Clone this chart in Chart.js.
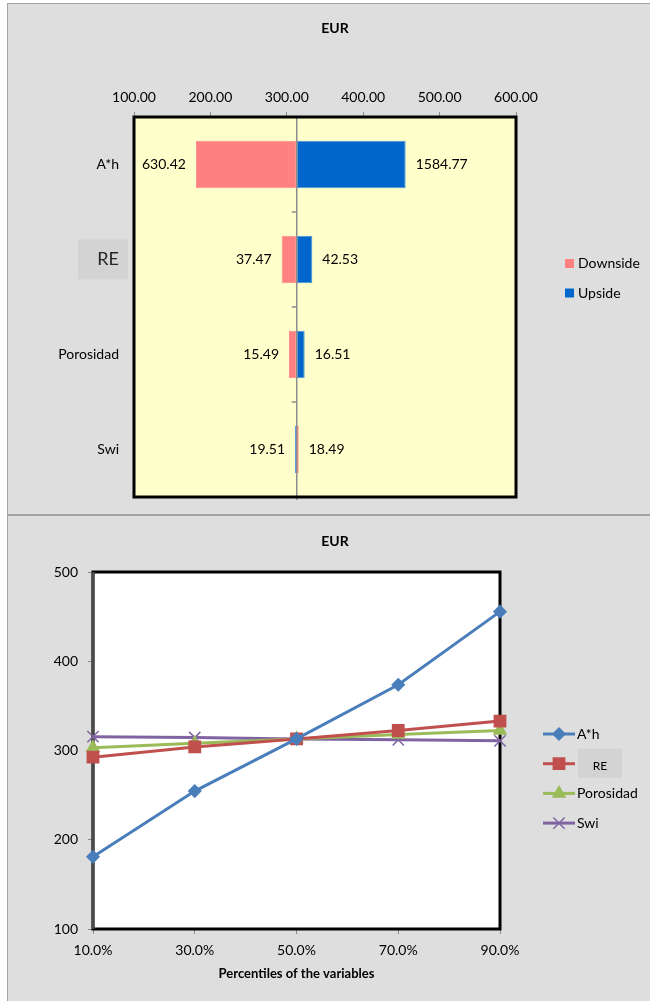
<!DOCTYPE html>
<html>
<head>
<meta charset="utf-8">
<title>EUR</title>
<script src="https://cdn.jsdelivr.net/npm/chart.js@4.4.1/dist/chart.umd.min.js"></script>
<style>
    html, body { margin: 0; padding: 0; background: #fff; }
    .frame { position: absolute; left: 7px; width: 650px; background: #dedede; border: 1px solid #a3a3a3; box-sizing: border-box; }
    #topFrame { top: 3px; height: 512px; }
    #bottomFrame { top: 515px; height: 490px; }
    canvas { position: absolute; left: 0; }
    #tornadoChart { top: 0; }
    #linesChart { top: 515px; }
</style>
</head>
<body>
<div class="frame" id="topFrame"></div>
<div class="frame" id="bottomFrame"></div>
<canvas id="tornadoChart" width="650" height="514"></canvas>
<canvas id="linesChart" width="650" height="486"></canvas>

<script>
// Tornado chart data
const variables = ['A*h', 'RE', 'Porosidad', 'Swi'];
const baseEUR = 313;
const downsideValues = [181, 293.3, 302.9, 315.6];
const upsideValues = [455.6, 333.4, 323.4, 310.8];
const downsideLabels = ['630.42', '37.47', '15.49', '19.51'];
const upsideLabels = ['1584.77', '42.53', '16.51', '18.49'];
const tornadoTicks = [100, 200, 300, 400, 500, 600];

// Line chart data
const percentiles = ['10.0%', '30.0%', '50.0%', '70.0%', '90.0%'];
const areaHeightEUR = [181, 254.5, 313, 373.6, 455.6];
const recoveryEUR = [292.5, 304, 313, 322.4, 333];
const porosityEUR = [303, 308, 313, 318, 322.5];
const swiEUR = [315.5, 314.5, 313, 312, 310.8];
const eurTicks = [100, 200, 300, 400, 500];

Chart.defaults.font.family = 'Lato, "Open Sans", sans-serif';
Chart.defaults.font.size = 14;
Chart.defaults.color = '#000';

document.addEventListener('DOMContentLoaded', () => {

    // Decorations for the tornado chart: fill, frame, centre line, value labels, legend
    const tornadoDecor = {
        id: 'tornadoDecor',
        beforeDraw(chart) {
            const { ctx, chartArea: a, scales: { y } } = chart;
            ctx.save();
            ctx.fillStyle = '#ffffcc';
            ctx.fillRect(a.left, a.top, a.right - a.left, a.bottom - a.top);
            // grey patch behind the RE label
            const yRE = y.getPixelForValue(1);
            ctx.fillStyle = '#d3d3d3';
            ctx.fillRect(78, yRE - 20, 50, 40);
            ctx.fillStyle = '#000';
            ctx.font = 'bold 14px Lato';
            ctx.textAlign = 'center';
            ctx.textBaseline = 'middle';
            ctx.fillText('EUR', 335, 28);
            ctx.restore();
        },
        afterDatasetsDraw(chart) {
            const { ctx, chartArea: a, scales: { x, y } } = chart;
            ctx.save();
            // vertical line at the base case
            const xb = x.getPixelForValue(baseEUR);
            ctx.strokeStyle = '#8c8c8c';
            ctx.lineWidth = 1.5;
            ctx.beginPath();
            ctx.moveTo(xb, a.top);
            ctx.lineTo(xb, a.bottom + 3);
            for (let i = 0; i < variables.length - 1; i++) {
                const yy = (y.getPixelForValue(i) + y.getPixelForValue(i + 1)) / 2;
                ctx.moveTo(xb - 5, yy);
                ctx.lineTo(xb, yy);
            }
            ctx.stroke();

            // value labels
            ctx.fillStyle = '#000';
            ctx.font = '14px Lato';
            ctx.textBaseline = 'middle';
            variables.forEach((v, i) => {
                const lo = Math.min(baseEUR, downsideValues[i], upsideValues[i]);
                const hi = Math.max(baseEUR, downsideValues[i], upsideValues[i]);
                const yy = y.getPixelForValue(i);
                ctx.textAlign = 'right';
                ctx.fillText(downsideLabels[i], x.getPixelForValue(lo) - 10, yy);
                ctx.textAlign = 'left';
                ctx.fillText(upsideLabels[i], x.getPixelForValue(hi) + 10, yy);
            });

            // plot frame
            ctx.strokeStyle = '#000';
            ctx.lineWidth = 3;
            ctx.strokeRect(a.left, a.top, a.right - a.left, a.bottom - a.top);
            ctx.restore();
        },
        afterDraw(chart) {
            const { ctx } = chart;
            ctx.save();
            ctx.font = '14px Lato';
            ctx.textAlign = 'left';
            ctx.textBaseline = 'middle';
            chart.data.datasets.forEach((ds, i) => {
                const yy = 263.5 + i * 29.5;
                ctx.fillStyle = ds.backgroundColor;
                ctx.fillRect(565, yy - 4.5, 9, 9);
                ctx.fillStyle = '#000';
                ctx.fillText(ds.label, 578, yy);
            });
            ctx.restore();
        }
    };

    const tornadoCtx = document.getElementById('tornadoChart').getContext('2d');
    new Chart(tornadoCtx, {
        type: 'bar',
        data: {
            labels: variables,
            datasets: [{
                label: 'Downside',
                data: variables.map((v, i) => [baseEUR, downsideValues[i]]),
                backgroundColor: '#ff8080',
                borderColor: '#ff8a8a',
                borderWidth: 1,
                borderSkipped: false,
                grouped: false,
                barPercentage: 0.5,
                categoryPercentage: 1
            }, {
                label: 'Upside',
                data: variables.map((v, i) => [baseEUR, upsideValues[i]]),
                backgroundColor: '#0066cc',
                borderColor: '#4a94e0',
                borderWidth: 1,
                borderSkipped: false,
                grouped: false,
                barPercentage: 0.5,
                categoryPercentage: 1
            }]
        },
        options: {
            indexAxis: 'y',
            responsive: false,
            animation: false,
            layout: { padding: { top: 0, left: 0, right: 134, bottom: 17 } },
            plugins: { legend: { display: false }, tooltip: { enabled: false } },
            scales: {
                x: {
                    position: 'top',
                    min: tornadoTicks[0],
                    max: tornadoTicks[tornadoTicks.length - 1],
                    afterBuildTicks: s => { s.ticks = tornadoTicks.map(v => ({ value: v })); },
                    ticks: { callback: v => Number(v).toFixed(2), padding: 6, maxRotation: 0 },
                    grid: { drawOnChartArea: false, tickLength: 5, color: '#8c8c8c' },
                    border: { display: false },
                    afterFit: s => { s.height = 117; }
                },
                y: {
                    grid: { display: false, drawTicks: false },
                    border: { display: false },
                    ticks: {
                        padding: 15,
                        font: c => ({ size: c.index === 1 ? 18 : 14 }),
                        color: c => (c.index === 1 ? '#262626' : '#000')
                    },
                    afterFit: s => {
                        s.width = 134;
                        s.paddingTop = 0;
                        s.paddingBottom = 0;
                    }
                }
            }
        },
        plugins: [tornadoDecor]
    });

    // Decorations for the line chart: title, frame and legend
    const linesDecor = {
        id: 'linesDecor',
        beforeDraw(chart) {
            const { ctx, chartArea: a } = chart;
            ctx.save();
            ctx.fillStyle = '#fff';
            ctx.fillRect(a.left, a.top, a.right - a.left, a.bottom - a.top);
            ctx.fillStyle = '#000';
            ctx.font = 'bold 14px Lato';
            ctx.textAlign = 'center';
            ctx.textBaseline = 'middle';
            ctx.fillText('EUR', 335, 26);
            ctx.restore();
        },
        beforeDatasetsDraw(chart) {
            const { ctx, chartArea: a } = chart;
            ctx.save();
            ctx.strokeStyle = '#000';
            ctx.lineWidth = 3;
            ctx.strokeRect(a.left, a.top, a.right - a.left, a.bottom - a.top);
            ctx.strokeStyle = '#4a4a4a';
            ctx.beginPath();
            ctx.moveTo(a.left, a.top);
            ctx.lineTo(a.left, a.bottom);
            ctx.stroke();
            ctx.restore();
        },
        afterDraw(chart) {
            const { ctx } = chart;
            ctx.save();
            chart.data.datasets.forEach((ds, i) => {
                const yy = 219 + i * 29.7;
                if (ds.label === 'RE') {
                    ctx.fillStyle = '#d3d3d3';
                    ctx.fillRect(578, yy - 15, 44, 29);
                }
                ctx.strokeStyle = ds.borderColor;
                ctx.fillStyle = ds.backgroundColor;
                ctx.lineWidth = 3;
                ctx.beginPath();
                ctx.moveTo(543, yy);
                ctx.lineTo(575, yy);
                ctx.stroke();
                ctx.lineWidth = 1.5;
                Chart.helpers.drawPoint(ctx, {
                    pointStyle: ds.pointStyle,
                    radius: ds.pointRadius,
                    rotation: 0,
                    borderWidth: 1.5
                }, 559, yy);
                ctx.fillStyle = '#000';
                ctx.textBaseline = 'middle';
                if (ds.label === 'RE') {
                    ctx.font = '12px Lato';
                    ctx.textAlign = 'center';
                    ctx.fillText(ds.label, 600, yy + 2);
                } else {
                    ctx.font = '14px Lato';
                    ctx.textAlign = 'left';
                    ctx.fillText(ds.label, 577, yy);
                }
            });
            ctx.restore();
        }
    };

    const lineStyle = (label, data, color, pointStyle, radius) => ({
        label: label,
        data: data,
        borderColor: color,
        backgroundColor: color,
        borderWidth: 3,
        pointStyle: pointStyle,
        pointRadius: radius,
        pointBorderWidth: 1.5,
        pointBackgroundColor: color,
        pointBorderColor: color,
        tension: 0,
        clip: false
    });

    const linesCtx = document.getElementById('linesChart').getContext('2d');
    new Chart(linesCtx, {
        type: 'line',
        data: {
            labels: percentiles,
            datasets: [
                lineStyle('A*h', areaHeightEUR, '#4a7ebb', 'rectRot', 6),
                lineStyle('RE', recoveryEUR, '#c0504d', 'rect', 8),
                lineStyle('Porosidad', porosityEUR, '#9bbb59', 'triangle', 7),
                lineStyle('Swi', swiEUR, '#8064a2', 'crossRot', 8)
            ]
        },
        options: {
            responsive: false,
            animation: false,
            layout: { padding: { top: 57, left: 0, right: 150, bottom: 0 } },
            plugins: { legend: { display: false }, tooltip: { enabled: false } },
            scales: {
                x: {
                    offset: false,
                    grid: { drawOnChartArea: false, tickLength: 5, color: '#8c8c8c' },
                    border: { display: false },
                    ticks: { padding: 8, maxRotation: 0 },
                    title: {
                        display: true,
                        text: 'Percentiles of the variables',
                        font: { size: 13, weight: 'bold' },
                        padding: { top: 0, bottom: 19 }
                    },
                    afterFit: s => { s.height = 72; }
                },
                y: {
                    min: eurTicks[0],
                    max: eurTicks[eurTicks.length - 1],
                    afterBuildTicks: s => { s.ticks = eurTicks.map(v => ({ value: v })); },
                    grid: { drawOnChartArea: false, tickLength: 5, color: '#8c8c8c' },
                    border: { display: false },
                    ticks: { padding: 10 },
                    afterFit: s => { s.width = 93; }
                }
            }
        },
        plugins: [linesDecor]
    });
});
</script>
</body>
</html>
